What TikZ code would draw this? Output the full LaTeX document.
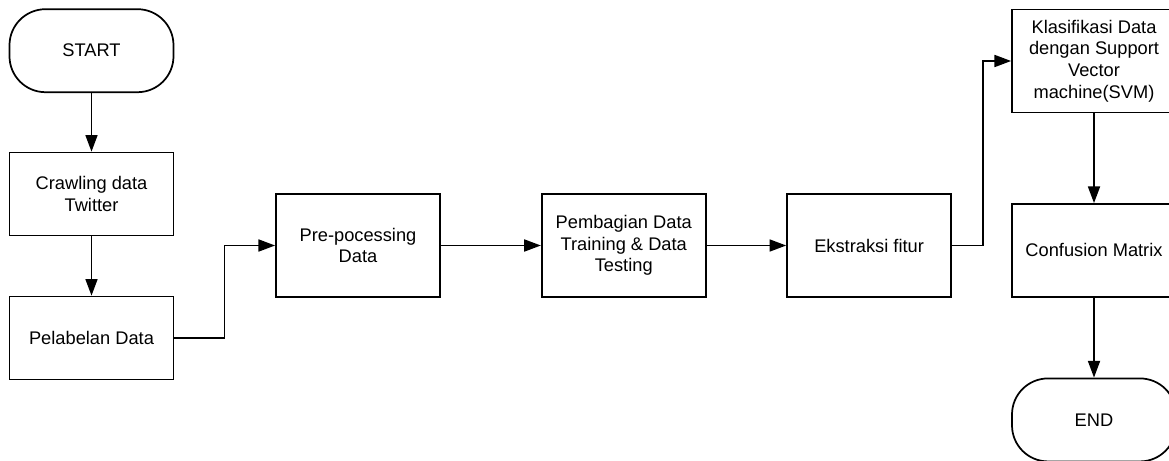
\documentclass[tikz,border=0pt]{standalone}
\usepackage{fontspec}
\setmainfont{Liberation Sans}
\usetikzlibrary{arrows.meta, positioning}

\begin{document}
\begin{tikzpicture}[x=0.75pt,y=-0.75pt,on grid,line width=1.3pt,>={Triangle[length=12.5pt,width=9pt]},
      every node/.style={font=\fontsize{13.7}{16.3}\selectfont,align=center},
      term/.style={draw,rounded corners=27pt,minimum width=123pt,minimum height=62.25pt},
      proc/.style={draw,minimum width=123pt,minimum height=62.25pt},
      tall/.style={proc,minimum height=77.25pt}]
      \useasboundingbox (0,0) rectangle (1169,460);
      \node[term] (start) at (91.5,50.7) {START};
      \node[proc] (crawl) [below=107.5pt of start] {Crawling data\\Twitter};
      \node[proc] (pel)   [below=108pt of crawl] {Pelabelan Data};
      \node[tall] (pre) at (358,245.5) {Pre-pocessing\\Data};
      \node[tall] (pemb)  [right=199.3pt of pre] {Pembagian Data\\Training \& Data\\Testing};
      \node[tall] (ekstr) [right=184pt of pemb] {Ekstraksi fitur};
      \node[tall] (klas) at (1094,61) {Klasifikasi Data\\dengan Support\\Vector\\machine(SVM)};
      \node[proc,minimum height=69.75pt] (conf) [below=142.1pt of klas] {Confusion Matrix};
      \node[term] (end)   [below=127.1pt of conf] {END};
      \draw[->] (start) -- (crawl);
      \draw[->] (crawl) -- (pel);
      \draw[->] (pel.east) -- ++(50,0) |- (pre.west);
      \draw[->] (pre) -- (pemb);
      \draw[->] (pemb) -- (ekstr);
      \draw[->] (ekstr.east) -- ++(31,0) |- (klas.west);
      \draw[->] (klas) -- (conf);
      \draw[->] (conf) -- (end);
    \end{tikzpicture}
\end{document}
